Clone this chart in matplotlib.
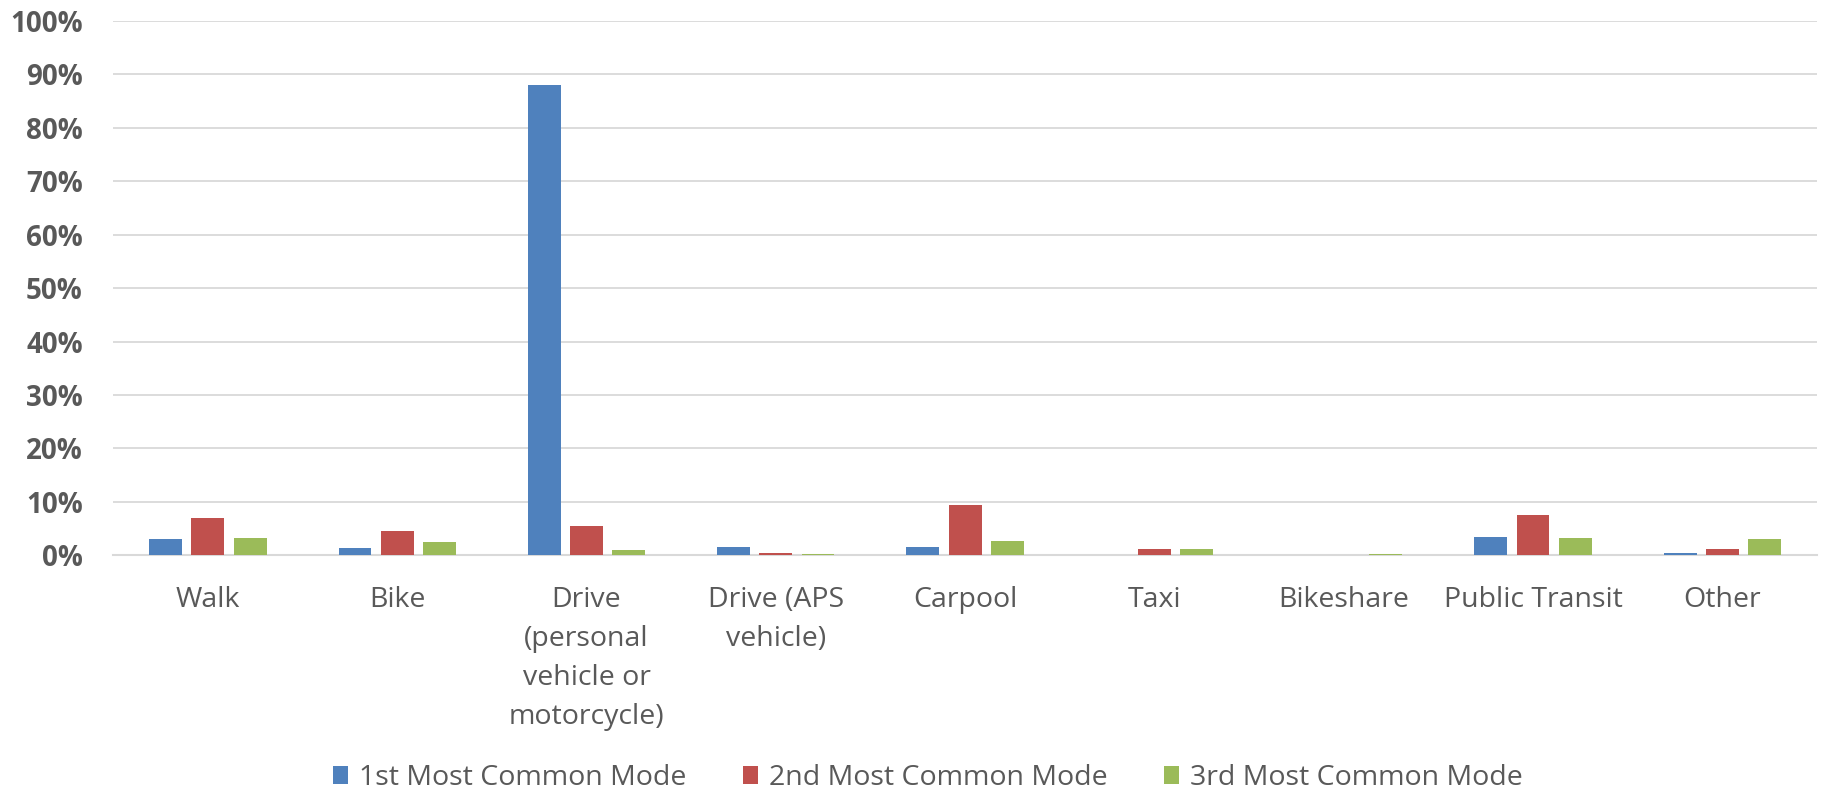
import matplotlib.pyplot as plt
import numpy as np

categories = ["Walk", "Bike", "Drive\n(personal\nvehicle or\nmotorcycle)", "Drive (APS\nvehicle)",
              "Carpool", "Taxi", "Bikeshare", "Public Transit", "Other"]
first_mode = [3.0, 1.4, 88.0, 1.6, 1.6, 0.0, 0.0, 3.5, 0.4]
second_mode = [6.9, 4.6, 5.4, 0.5, 9.5, 1.2, 0.0, 7.55, 1.2]
third_mode = [3.2, 2.4, 0.9, 0.25, 2.7, 1.1, 0.25, 3.2, 3.05]
series_names = ["1st Most Common Mode", "2nd Most Common Mode", "3rd Most Common Mode"]
colors = ["#4F81BD", "#C0504D", "#9BBB59"]

plt.rcParams['font.family'] = ['Open Sans', 'DejaVu Sans']

fig = plt.figure(figsize=(18.27, 7.91), dpi=100)
ax = fig.add_axes([0.062, 0.298, 0.9325, 0.6755])

x = np.arange(len(categories))
w = 0.174
step = 0.223
for i, (vals, name, c) in enumerate(zip([first_mode, second_mode, third_mode], series_names, colors)):
    ax.bar(x + (i - 1) * step, vals, w, color=c, label=name, zorder=3)

ax.set_xlim(-0.5, len(categories) - 0.5)
ax.set_ylim(0, 100)
ax.set_yticks(range(0, 101, 10))
ax.set_yticklabels([f"{v}%" for v in range(0, 101, 10)], fontsize=20, fontweight='bold', color='#595959')
ax.set_xticks(x)
ax.set_xticklabels(categories, fontsize=20.5, color='#595959', linespacing=1.52)
ax.tick_params(axis='both', length=0)
ax.tick_params(axis='x', pad=22)
ax.tick_params(axis='y', pad=22)
ax.grid(axis='y', color='#D9D9D9', linewidth=1.3, zorder=0)
for s in ['top', 'right', 'left']:
    ax.spines[s].set_visible(False)
ax.spines['bottom'].set_color('#D9D9D9')
ax.spines['bottom'].set_linewidth(1.5)

fig.legend(loc='lower center', bbox_to_anchor=(0.508, -0.027), ncol=3, frameon=False,
           fontsize=20.5, handlelength=0.5, handleheight=0.6, columnspacing=2.0,
           handletextpad=0.4, borderpad=0.2, labelcolor='#595959')

fig.savefig("out.png", dpi=100)
